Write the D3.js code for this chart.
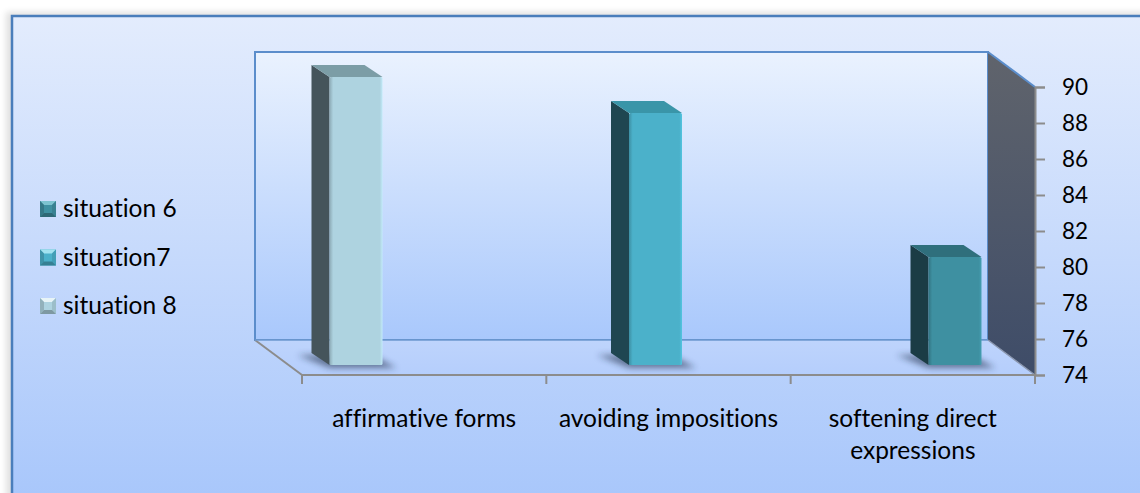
<!DOCTYPE html>
<html>
<head>
<meta charset="utf-8">
<script src="https://cdn.jsdelivr.net/npm/d3@7"></script>
<style>
  body { margin: 0; background: #fff; }
  svg { display: block; }
  text { font-family: Lato, "Open Sans", sans-serif; fill: #000; font-variant-ligatures: none; }
</style>
</head>
<body>
<script>
// data
var categories = ["affirmative forms", "avoiding impositions", "softening direct expressions"];
var categoryLines = [["affirmative forms"], ["avoiding impositions"], ["softening direct", "expressions"]];
var values = [90, 88, 80];
var barSeries = ["situation 8", "situation7", "situation 6"];
var legendNames = ["situation 6", "situation7", "situation 8"];
var yTicks = [74, 76, 78, 80, 82, 84, 86, 88, 90];

// colours for each series: front, side, top
var colors = {
	"situation 6": { front: "#3E90A1", side: "#1B3C45", top: "#2F6F7C", light: "#7CC3D0" },
	"situation7":  { front: "#4BB1CA", side: "#1F4651", top: "#3A95A8", light: "#A2E3F0" },
	"situation 8": { front: "#AED3E0", side: "#45545B", top: "#7C9DA6", light: "#E8F4F7" }
};

var w = 1140, h = 493;
var svg = d3.select("body").append("svg").attr("width", w).attr("height", h);
var defs = svg.append("defs");

function vGrad(id, c0, c1) {
	var g = defs.append("linearGradient").attr("id", id)
		.attr("x1", 0).attr("y1", 0).attr("x2", 0).attr("y2", 1);
	g.append("stop").attr("offset", "0%").attr("stop-color", c0);
	g.append("stop").attr("offset", "100%").attr("stop-color", c1);
}
vGrad("bgGrad", "#E3ECFD", "#A7C6FB");
vGrad("wallGrad", "#EAF2FE", "#A9C8FC");
vGrad("sideGrad", "#60646C", "#3E4C68");
vGrad("floorGrad", "#BED4FC", "#B5CEFC");

defs.append("filter").attr("id", "blur").attr("x", "-50%").attr("y", "-50%")
	.attr("width", "200%").attr("height", "200%")
	.append("feGaussianBlur").attr("stdDeviation", 3);

// front face gradients (soft bevel)
Object.keys(colors).forEach(function(k, i) {
	var g = defs.append("linearGradient").attr("id", "front" + i)
		.attr("x1", 0).attr("y1", 0).attr("x2", 1).attr("y2", 0);
	var c = d3.color(colors[k].front);
	g.append("stop").attr("offset", "0%").attr("stop-color", c.darker(0.6));
	g.append("stop").attr("offset", "7%").attr("stop-color", c);
	g.append("stop").attr("offset", "95%").attr("stop-color", c);
	g.append("stop").attr("offset", "100%").attr("stop-color", c.brighter(0.3));
	colors[k].grad = "url(#front" + i + ")";
});

// chart area
svg.append("rect").attr("x", 6).attr("y", 12).attr("width", w).attr("height", h)
	.attr("fill", "#000").attr("opacity", 0.12).attr("filter", "url(#blur)");
svg.append("rect").attr("x", 12).attr("y", 16).attr("width", w).attr("height", h)
	.attr("fill", "url(#bgGrad)").attr("stroke", "#4A7EBB").attr("stroke-width", 2.5);

// geometry of the 3d box
var frontLeft = 302, frontRight = 1035, frontBottom = 375, frontTop = 87;
var depthX = -47, depthY = -35;

var yFront = d3.scaleLinear().domain([74, 90]).range([frontBottom, frontTop]);
var yBack = d3.scaleLinear().domain([74, 90]).range([frontBottom + depthY, frontTop + depthY]);
var xBand = d3.scaleBand().domain(categories).range([frontLeft, frontRight]);
var xBar = d3.scalePoint().domain(categories).range([356, 955]);

// back wall
var bl = frontLeft + depthX, br = frontRight + depthX;
svg.append("rect").attr("x", bl).attr("y", yBack(90))
	.attr("width", br - bl).attr("height", yBack(74) - yBack(90))
	.attr("fill", "url(#wallGrad)").attr("stroke", "#5B8DCB").attr("stroke-width", 2);

// side wall
svg.append("polygon")
	.attr("points", [[br, yBack(90)], [frontRight, yFront(90)], [frontRight, yFront(74)], [br, yBack(74)]].join(" "))
	.attr("fill", "url(#sideGrad)");
svg.append("line").attr("x1", br).attr("y1", yBack(90)).attr("x2", frontRight).attr("y2", yFront(90))
	.attr("stroke", "#5B8DCB").attr("stroke-width", 2);

// floor
svg.append("polygon")
	.attr("points", [[bl, yBack(74)], [br, yBack(74)], [frontRight, yFront(74)], [frontLeft, yFront(74)]].join(" "))
	.attr("fill", "url(#floorGrad)");
svg.append("line").attr("x1", br).attr("y1", yBack(74)).attr("x2", frontRight).attr("y2", yFront(74))
	.attr("stroke", "#8A96AE").attr("stroke-width", 1.5);
svg.append("line").attr("x1", bl).attr("y1", yBack(74)).attr("x2", frontLeft).attr("y2", yFront(74))
	.attr("stroke", "#8C8C8C").attr("stroke-width", 2);
svg.append("line").attr("x1", bl).attr("y1", yBack(74)).attr("x2", br).attr("y2", yBack(74))
	.attr("stroke", "#6D98CF").attr("stroke-width", 1.5);

// category axis
svg.append("line").attr("x1", frontLeft).attr("y1", frontBottom).attr("x2", frontRight).attr("y2", frontBottom)
	.attr("stroke", "#8C8C8C").attr("stroke-width", 2);
var bounds = categories.map(function(c) { return xBand(c); }).concat([frontRight]);
svg.selectAll(".ctick").data(bounds).enter().append("line")
	.attr("x1", function(d) { return d; }).attr("x2", function(d) { return d; })
	.attr("y1", frontBottom).attr("y2", frontBottom + 9)
	.attr("stroke", "#8C8C8C").attr("stroke-width", 2);

svg.selectAll(".clabel").data(categories).enter().append("text")
	.attr("x", function(d) { return xBand(d) + xBand.bandwidth() / 2; })
	.attr("y", 427)
	.attr("text-anchor", "middle")
	.attr("font-size", "24.5px")
	.each(function(d, i) {
		var t = d3.select(this);
		categoryLines[i].forEach(function(line, j) {
			t.append("tspan").attr("x", xBand(d) + xBand.bandwidth() / 2)
				.attr("dy", j === 0 ? 0 : 32).text(line);
		});
	});

// value axis
var yAxis = d3.axisRight(yFront).tickValues(yTicks).tickSize(10).tickPadding(17);
var ax = svg.append("g").attr("transform", "translate(" + frontRight + ",0)").call(yAxis);
ax.select(".domain").attr("stroke", "#8C8C8C").attr("stroke-width", 2);
ax.selectAll(".tick line").attr("stroke", "#8C8C8C").attr("stroke-width", 2);
ax.selectAll(".tick text").attr("font-size", "22.5px").attr("font-family", "Lato, sans-serif").attr("fill", "#000");

// bars
var faceW = 53, sideX = -18, sideY = -12, barFront = -10;
var bars = svg.selectAll(".bar").data(values).enter().append("g");

// shadows
bars.append("polygon")
	.attr("points", function(d, i) {
		var x = xBar(categories[i]) - faceW / 2, yb = yFront(74) + barFront;
		return [[x + sideX - 14, yb + sideY + 2], [x + faceW - 10, yb + sideY + 2], [x + faceW + 14, yb + 3], [x, yb + 3]].join(" ");
	})
	.attr("fill", "#1b2a45").attr("opacity", 0.55).attr("filter", "url(#blur)");

// side
bars.append("polygon")
	.attr("points", function(d, i) {
		var x = xBar(categories[i]) - faceW / 2, yt = yFront(d) + barFront, yb = yFront(74) + barFront;
		return [[x, yt], [x + sideX, yt + sideY], [x + sideX, yb + sideY], [x, yb]].join(" ");
	})
	.attr("fill", function(d, i) { return colors[barSeries[i]].side; });

// top
bars.append("polygon")
	.attr("points", function(d, i) {
		var x = xBar(categories[i]) - faceW / 2, yt = yFront(d) + barFront;
		return [[x, yt], [x + faceW, yt], [x + faceW + sideX, yt + sideY], [x + sideX, yt + sideY]].join(" ");
	})
	.attr("fill", function(d, i) { return colors[barSeries[i]].top; });

// front
bars.append("rect")
	.attr("x", function(d, i) { return xBar(categories[i]) - faceW / 2; })
	.attr("y", function(d) { return yFront(d) + barFront; })
	.attr("width", faceW)
	.attr("height", function(d) { return yFront(74) - yFront(d); })
	.attr("rx", 1.5)
	.attr("fill", function(d, i) { return colors[barSeries[i]].grad; });

// legend
var legend = svg.selectAll(".legend").data(legendNames).enter().append("g")
	.attr("transform", function(d, i) { return "translate(40," + (201 + i * 48.5) + ")"; });
legend.each(function(d) {
	var g = d3.select(this), c = colors[d], s = 16, b = 4;
	var base = d3.color(c.front);
	g.append("rect").attr("width", s).attr("height", s).attr("fill", base);
	g.append("polygon").attr("points", [[0, 0], [s, 0], [s - b, b], [b, b]].join(" ")).attr("fill", c.light);
	g.append("polygon").attr("points", [[0, 0], [b, b], [b, s - b], [0, s]].join(" ")).attr("fill", base.darker(0.5));
	g.append("polygon").attr("points", [[s, 0], [s, s], [s - b, s - b], [s - b, b]].join(" ")).attr("fill", base.darker(0.3));
	g.append("polygon").attr("points", [[0, s], [s, s], [s - b, s - b], [b, s - b]].join(" ")).attr("fill", base.darker(0.9));
	g.append("text").attr("x", 23).attr("y", 16).attr("font-size", "24.5px").text(d);
});
</script>
</body>
</html>
